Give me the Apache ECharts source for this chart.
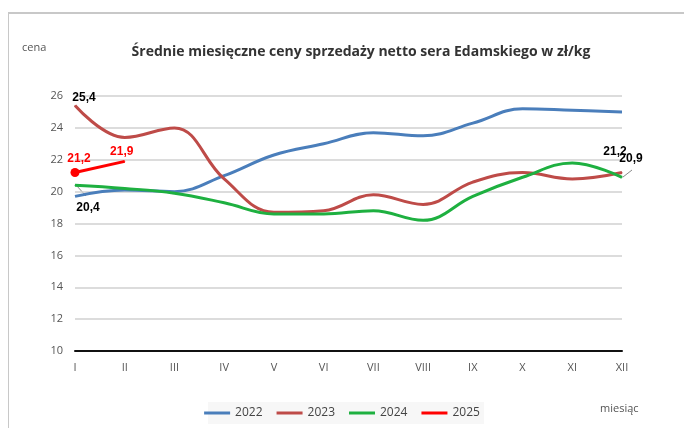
<!DOCTYPE html>
<html><head><meta charset="utf-8">
<script src="https://cdn.jsdelivr.net/npm/echarts@6/dist/echarts.min.js"></script>
<style>
html,body{margin:0;padding:0;background:#fff;}
#frame{position:absolute;left:8px;top:12px;width:676px;height:416px;border-left:1px solid #c8c8c8;border-top:2px solid #c8c8c8;}
#c{position:absolute;left:0;top:0;width:684px;height:428px;}
</style></head>
<body>
<div id="frame"></div>
<div id="c"></div>
<script>
const months = ['I','II','III','IV','V','VI','VII','VIII','IX','X','XI','XII'];
const y2022 = [19.7, 20.1, 20.0, 21.0, 22.3, 23.0, 23.7, 23.5, 24.3, 25.2, 25.1, 25.0];
const y2023 = [25.4, 23.4, 24.0, 20.8, 18.7, 18.8, 19.8, 19.2, 20.6, 21.2, 20.8, 21.2];
const y2024 = [20.4, 20.2, 19.9, 19.3, 18.6, 18.6, 18.8, 18.2, 19.7, 20.9, 21.8, 20.9];
const y2025 = [21.2, 21.9];
const yTicks = [10, 12, 14, 16, 18, 20, 22, 24, 26];

const fmt = p => String(p.value).replace('.', ',');
const lblBase = {show:true, formatter: fmt, fontSize:12, fontWeight:'bold', fontFamily:'Liberation Sans, Arial, sans-serif', color:'#000'};

function labeled(data, idxMap, color){
  return data.map((v,i)=>{
    if(idxMap[i]) return {value:v, symbol:'circle', symbolSize:1, itemStyle:{color:color},
      label:Object.assign({}, lblBase, idxMap[i])};
    return v;
  });
}

const chart = echarts.init(document.getElementById('c'));
chart.setOption({
  animation:false,
  textStyle:{fontFamily:'Liberation Sans, Arial, sans-serif'},
  title:{text:'Średnie miesięczne ceny sprzedaży netto sera Edamskiego w zł/kg', left:356, textAlign:'center', top:40,
    textStyle:{fontSize:14, fontWeight:'bold', color:'#333', fontFamily:'Open Sans, Liberation Sans, sans-serif'}},
  graphic:[
    {type:'text', left:22, top:42, style:{text:'cena', fontSize:11, fill:'#555', fontFamily:'Open Sans, sans-serif'}},
    {type:'text', left:600, top:403, style:{text:'miesiąc', fontSize:11, fill:'#555', fontFamily:'Open Sans, sans-serif'}},
    {type:'rect', shape:{x:208, y:402, width:276, height:22}, style:{fill:'#f7f7f7'}},
    {type:'line', shape:{x1:623, y1:177, x2:632, y2:170}, style:{stroke:'#888', lineWidth:1}},
    {type:'line', shape:{x1:76, y1:185, x2:86, y2:196}, style:{stroke:'#888', lineWidth:1}}
  ],
  legend:{bottom:4, left:'center', itemWidth:26, itemHeight:3, itemGap:14, icon:'rect',
    textStyle:{fontSize:12, color:'#444', fontFamily:'Open Sans, sans-serif'},
    data:['2022','2023','2024','2025']},
  grid:{left:75, right:62, top:96, bottom:77},
  xAxis:{type:'category', data:months, boundaryGap:false,
    axisLine:{lineStyle:{color:'#111', width:2}}, axisTick:{show:false},
    axisLabel:{color:'#555', fontSize:11, margin:11, fontFamily:'Open Sans, sans-serif'}},
  yAxis:{type:'value', min:10, max:26, interval:2,
    axisLine:{show:false}, axisTick:{show:false},
    axisLabel:{color:'#555', fontSize:11, margin:12, fontFamily:'Open Sans, sans-serif'},
    splitLine:{lineStyle:{color:'#d0d0d0', width:1.5}}},
  series:[
    {name:'2022', type:'line', smooth:0.4, symbol:'none', data:y2022, lineStyle:{color:'#4a7ebb', width:3}, itemStyle:{color:'#4a7ebb'}},
    {name:'2023', type:'line', smooth:0.4, symbol:'none', data:labeled(y2023, {0:{position:'top', offset:[9,4]}, 11:{position:'top', offset:[-7,-9]}}, '#be4b48'),
      lineStyle:{color:'#be4b48', width:3}, itemStyle:{color:'#be4b48'}},
    {name:'2024', type:'line', smooth:0.4, symbol:'none', data:labeled(y2024, {0:{position:'bottom', offset:[13,11]}, 11:{position:'top', offset:[9,-7]}}, '#1eb040'),
      lineStyle:{color:'#1eb040', width:3}, itemStyle:{color:'#1eb040'}},
    {name:'2025', type:'line', smooth:0.4, symbol:'none', z:5,
      data:[{value:y2025[0], symbol:'circle', symbolSize:9, label:Object.assign({}, lblBase, {color:'#ff0000', position:'top', offset:[4,2]})},
            {value:y2025[1], symbol:'circle', symbolSize:1, label:Object.assign({}, lblBase, {color:'#ff0000', position:'top', offset:[-3,2]})}],
      lineStyle:{color:'#ff0000', width:3}, itemStyle:{color:'#ff0000'}}
  ]
});
</script>
</body></html>
